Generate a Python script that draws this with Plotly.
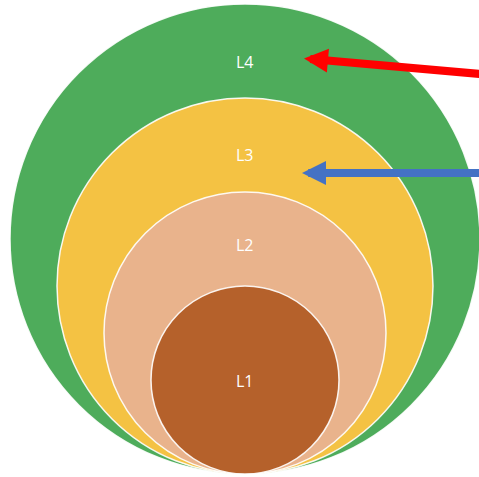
import plotly.graph_objects as go

# Nested levels, innermost first; all circles touch a common bottom point
levels = ["L1", "L2", "L3", "L4"]
radii = [94, 141, 188, 235]
colors = ["#B5612B", "#E9B38C", "#F4C243", "#4EAC5B"]
label_y = [381, 245, 155, 62]

# Pointer arrows: tip and tail positions
arrow_tip_x = [304, 302]
arrow_tip_y = [58.5, 173]
arrow_tail_x = [486, 486]
arrow_tail_y = [74.5, 173]
arrow_colors = ["#FF0000", "#4472C4"]

W, H = 479, 477
cx = 245
base_y = 474

fig = go.Figure()

shapes = []
# draw outermost first so inner ones sit on top
for r, c in sorted(zip(radii, colors), key=lambda t: -t[0]):
    shapes.append(dict(
        type="circle", xref="x", yref="y",
        x0=cx - r, x1=cx + r, y0=base_y - 2 * r, y1=base_y,
        fillcolor=c, line=dict(color="rgba(255,255,255,0.9)", width=1.5),
        layer="below",
    ))

annotations = []
for name, ly in zip(levels, label_y):
    annotations.append(dict(
        x=cx, y=ly, xref="x", yref="y", text=name, showarrow=False,
        font=dict(color="white", size=16, family="Open Sans"),
    ))

for tx, ty, ax, ay, col in zip(arrow_tip_x, arrow_tip_y, arrow_tail_x, arrow_tail_y, arrow_colors):
    annotations.append(dict(
        x=tx, y=ty, ax=ax, ay=ay, xref="x", yref="y", axref="x", ayref="y",
        text="", showarrow=True, arrowhead=2, arrowsize=0.6, arrowwidth=8,
        arrowcolor=col, standoff=0,
    ))

fig.update_layout(
    width=W, height=H,
    margin=dict(l=0, r=0, t=0, b=0),
    paper_bgcolor="white", plot_bgcolor="white",
    xaxis=dict(range=[0, W], visible=False, fixedrange=True),
    yaxis=dict(range=[H, 0], visible=False, fixedrange=True),
    shapes=shapes, annotations=annotations,
    showlegend=False,
)

fig.write_html("out.html")
